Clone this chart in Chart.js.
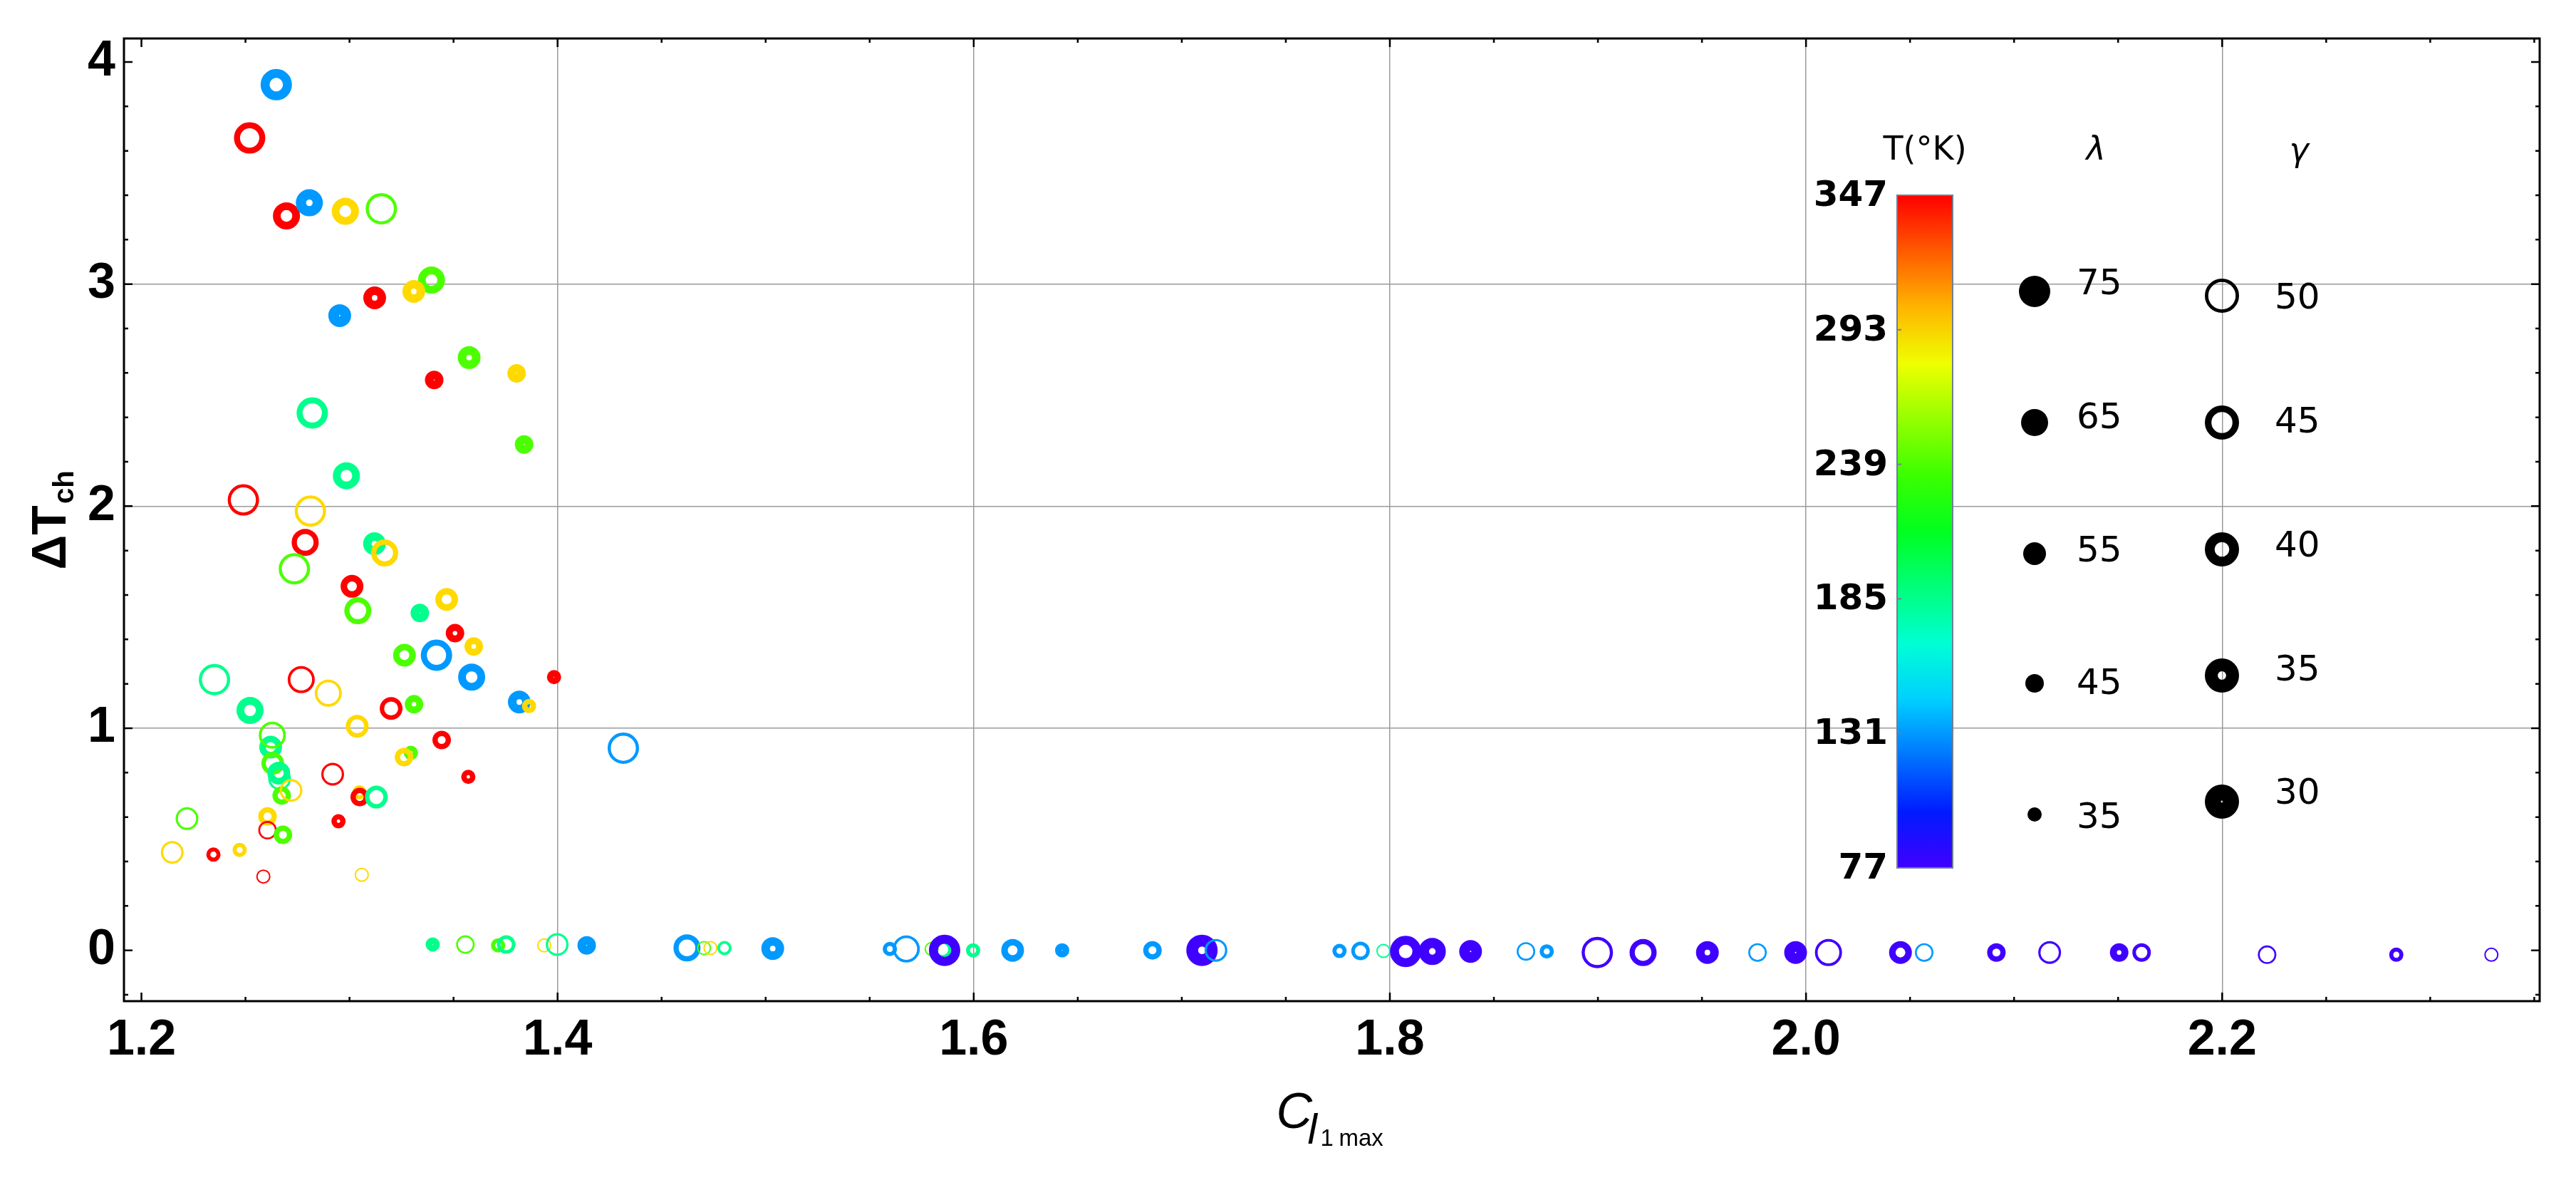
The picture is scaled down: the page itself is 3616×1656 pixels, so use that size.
<!DOCTYPE html>
<html>
<head>
<meta charset="utf-8">
<script src="https://cdn.jsdelivr.net/npm/chart.js@4.4.1/dist/chart.umd.min.js"></script>
<style>
  html, body { margin: 0; padding: 0; background: #fff; }
</style>
</head>
<body>
<canvas id="grafica" width="3616" height="1656"></canvas>
<script>
// Datos: C_l1max, ΔTch, T (°K), λ y γ de cada punto
var cl1max = [
  1.2648, 1.2520, 1.2697, 1.2807, 1.2980, 1.3153, 1.3394, 1.3309, 1.3121, 1.2953,
  1.3575, 1.3407, 1.3803, 1.2821, 1.3839, 1.2985, 1.2490, 1.2812, 1.2787, 1.3120,
  1.3169, 1.2735, 1.3012, 1.3040, 1.3467, 1.3338, 1.3507, 1.3597, 1.3264, 1.3418,
  1.3587, 1.3983, 1.2351, 1.2768, 1.2898, 1.3816, 1.3863, 1.2522, 1.3200, 1.3310,
  1.3037, 1.3443, 1.4316, 1.2621, 1.2629, 1.3295, 1.3262, 1.2631, 1.2660, 1.2664,
  1.2674, 1.2719, 1.2919, 1.3571, 1.3047, 1.3049, 1.3129, 1.2606, 1.2606, 1.2680,
  1.2947, 1.2219, 1.2148, 1.2346, 1.2472, 1.2586, 1.3059,
  1.3400, 1.3557, 1.3714, 1.3753, 1.3936, 1.3998, 1.4140, 1.4622, 1.4704, 1.4735,
  1.4802, 1.5034, 1.5597, 1.5676, 1.5798, 1.5850, 1.5860, 1.5997, 1.6187, 1.6425,
  1.6859, 1.7080, 1.7097, 1.7164, 1.7758, 1.7859, 1.7969, 1.8076, 1.8204, 1.8388,
  1.8654, 1.8754, 1.8997, 1.9217, 1.9526, 1.9767, 1.9950, 2.0108, 2.0454, 2.0568,
  2.0915, 2.1171, 2.1505, 2.1613, 2.2216, 2.2837, 2.3294
];
var deltaTch = [
  3.898, 3.658, 3.307, 3.366, 3.328, 3.339, 3.018, 2.967, 2.938, 2.858,
  2.669, 2.568, 2.598, 2.420, 2.278, 2.137, 2.028, 1.978, 1.837, 1.831,
  1.789, 1.718, 1.639, 1.529, 1.580, 1.519, 1.428, 1.368, 1.329, 1.329,
  1.230, 1.230, 1.219, 1.219, 1.158, 1.118, 1.100, 1.080, 1.089, 1.108,
  1.009, 0.947, 0.910, 0.915, 0.969, 0.889, 0.870, 0.842, 0.798, 0.772,
  0.697, 0.720, 0.793, 0.781, 0.711, 0.690, 0.690, 0.603, 0.541, 0.520,
  0.581, 0.593, 0.441, 0.431, 0.452, 0.332, 0.340,
  0.026, 0.026, 0.022, 0.026, 0.022, 0.026, 0.022, 0.011, 0.010, 0.010,
  0.010, 0.008, 0.006, 0.006, 0.006, 0.004, 0.000, 0.000, 0.000, 0.000,
  0.000, 0.000, 0.000, 0.000, -0.003, -0.003, -0.003, -0.005, -0.005, -0.005,
  -0.005, -0.005, -0.010, -0.010, -0.010, -0.010, -0.010, -0.010, -0.010, -0.010,
  -0.010, -0.010, -0.010, -0.010, -0.020, -0.020, -0.020
];
var tempK = [
  131, 347, 347, 131, 293, 239, 239, 293, 347, 131,
  239, 347, 293, 185, 239, 185, 347, 293, 347, 185,
  293, 239, 347, 239, 293, 185, 347, 293, 239, 131,
  131, 347, 185, 347, 293, 131, 293, 185, 347, 239,
  293, 347, 131, 185, 239, 239, 293, 239, 185, 185,
  239, 293, 347, 347, 293, 347, 185, 293, 347, 239,
  347, 239, 293, 347, 293, 347, 293,
  185, 239, 239, 185, 293, 185, 131, 131, 239, 293,
  185, 131, 131, 131, 239, 185, 77, 185, 131, 131,
  131, 185, 77, 131, 131, 131, 185, 77, 77, 77,
  131, 131, 77, 77, 77, 131, 77, 77, 77, 131,
  77, 77, 77, 77, 77, 77, 77
];
var lambda = [
  75, 75, 65, 65, 65, 75, 65, 55, 55, 55,
  55, 45, 45, 75, 45, 65, 75, 75, 65, 55,
  65, 75, 55, 65, 55, 45, 45, 45, 55, 75,
  65, 35, 75, 65, 65, 55, 35, 65, 55, 45,
  55, 45, 75, 55, 65, 35, 45, 55, 55, 55,
  45, 55, 55, 35, 35, 45, 55, 45, 45, 45,
  35, 55, 55, 35, 35, 35, 35,
  35, 45, 35, 45, 35, 55, 45, 65, 35, 35,
  35, 55, 35, 65, 35, 45, 75, 35, 55, 35,
  45, 45, 75, 55, 35, 45, 35, 75, 65, 55,
  45, 35, 75, 65, 55, 45, 55, 65, 55, 45,
  45, 55, 45, 45, 45, 35, 35
];
var gamma = [
  40, 45, 40, 35, 40, 50, 40, 35, 35, 30,
  35, 30, 30, 45, 30, 40, 50, 50, 45, 35,
  45, 50, 40, 45, 40, 30, 35, 35, 40, 45,
  40, 30, 50, 50, 50, 35, 35, 40, 45, 35,
  45, 40, 50, 40, 50, 35, 40, 45, 40, 50,
  40, 50, 50, 35, 40, 40, 45, 40, 50, 40,
  35, 50, 50, 40, 40, 50, 50,
  30, 50, 40, 45, 50, 50, 30, 45, 50, 50,
  45, 35, 40, 50, 50, 45, 40, 40, 40, 30,
  40, 50, 35, 50, 40, 45, 50, 40, 35, 30,
  50, 40, 50, 45, 35, 50, 30, 50, 40, 50,
  40, 50, 35, 45, 50, 40, 50
];

var xTicks = [1.2, 1.4, 1.6, 1.8, 2.0, 2.2];
var yTicks = [0, 1, 2, 3, 4];
var xGrid = [1.4, 1.6, 1.8, 2.0, 2.2];
var yGrid = [1, 2, 3];
var tLabels = [347, 293, 239, 185, 131, 77];
var lambdaLevels = [75, 65, 55, 45, 35];
var gammaLevels = [50, 45, 40, 35, 30];

var T_MIN = 77, T_MAX = 347;

// color segun temperatura (escala de tono, rojo arriba, violeta abajo)
function colorT(t) {
  var h = 255 * (T_MAX - t) / (T_MAX - T_MIN);
  return 'hsl(' + h.toFixed(1) + ', 100%, 50%)';
}
// diametro exterior segun λ
function diametro(l) {
  return 20 + (l - 35) * 0.6;
}
// grosor del anillo segun γ
function grosor(g, d) {
  return d * (0.1 + (50 - g) * 0.0185);
}

var puntos = cl1max.map(function (x, i) {
  var d = diametro(lambda[i]);
  var w = grosor(gamma[i], d);
  return { x: x, y: deltaTch[i], r: d / 2 - w / 2 };
});

var fuenteEjes = { family: "'Liberation Sans', Arial, sans-serif", size: 70, weight: 'bold' };

// marco con marcas hacia dentro, titulos de ejes y leyenda
var marcoPlugin = {
  id: 'marco',
  afterDraw: function (chart) {
    var ctx = chart.ctx, ca = chart.chartArea;
    var xs = chart.scales.x, ys = chart.scales.y;
    ctx.save();
    ctx.strokeStyle = '#000';

    // marcas
    ctx.lineWidth = 2.5;
    var v, px, len;
    for (v = 1.2; v <= 2.36; v += 0.05) {
      px = xs.getPixelForValue(v);
      if (px < ca.left || px > ca.right) continue;
      len = Math.abs(v * 5 - Math.round(v * 5)) < 1e-6 ? 12 : 6;
      ctx.beginPath();
      ctx.moveTo(px, ca.bottom); ctx.lineTo(px, ca.bottom - len);
      ctx.moveTo(px, ca.top); ctx.lineTo(px, ca.top + len);
      ctx.stroke();
    }
    for (v = -0.2; v <= 4.01; v += 0.2) {
      px = ys.getPixelForValue(v);
      if (px < ca.top || px > ca.bottom) continue;
      len = Math.abs(v - Math.round(v)) < 1e-6 ? 12 : 6;
      ctx.beginPath();
      ctx.moveTo(ca.left, px); ctx.lineTo(ca.left + len, px);
      ctx.moveTo(ca.right, px); ctx.lineTo(ca.right - len, px);
      ctx.stroke();
    }
    ctx.lineWidth = 3;
    ctx.strokeRect(ca.left, ca.top, ca.right - ca.left, ca.bottom - ca.top);

    // titulo eje y: ΔTch
    ctx.fillStyle = '#000';
    ctx.save();
    ctx.translate(92, (ca.top + ca.bottom) / 2 + 70);
    ctx.rotate(-Math.PI / 2);
    ctx.textAlign = 'left';
    ctx.textBaseline = 'alphabetic';
    ctx.font = "bold 68px 'Liberation Sans', Arial, sans-serif";
    ctx.fillText('\u0394T', 0, 0);
    var wt = ctx.measureText('\u0394T').width;
    ctx.font = "bold 40px 'Liberation Sans', Arial, sans-serif";
    ctx.fillText('ch', wt + 2, 11);
    ctx.restore();

    // titulo eje x: C_{l1 max}
    var cx = (ca.left + ca.right) / 2;
    ctx.textAlign = 'left';
    ctx.textBaseline = 'alphabetic';
    ctx.font = "italic 70px 'Liberation Sans', Arial, sans-serif";
    ctx.fillText('C', cx - 78, 1583);
    ctx.font = "italic 60px 'Liberation Sans', Arial, sans-serif";
    ctx.fillText('l', cx - 34, 1605);
    ctx.font = "33px 'Liberation Sans', Arial, sans-serif";
    ctx.fillText('1', cx - 16, 1608);
    ctx.fillText('max', cx + 10, 1608);

    // leyenda: barra de color
    var bx0 = 2663, bx1 = 2741, by0 = 274, by1 = 1218;
    var grad = ctx.createLinearGradient(0, by1, 0, by0);
    for (var k = 0; k <= 12; k++) {
      grad.addColorStop(k / 12, 'hsl(' + (255 * (1 - k / 12)).toFixed(1) + ',100%,50%)');
    }
    ctx.fillStyle = grad;
    ctx.fillRect(bx0, by0, bx1 - bx0, by1 - by0);
    ctx.strokeStyle = '#6f7f95';
    ctx.lineWidth = 2;
    ctx.strokeRect(bx0, by0, bx1 - bx0, by1 - by0);

    ctx.fillStyle = '#000';
    ctx.font = "bold 50px 'DejaVu Sans', sans-serif";
    ctx.textAlign = 'right';
    ctx.textBaseline = 'middle';
    tLabels.forEach(function (t) {
      var yy = by1 - (t - T_MIN) / (T_MAX - T_MIN) * (by1 - by0);
      ctx.fillText(String(t), 2650, yy + 2);
      ctx.strokeStyle = '#6f7f95';
      ctx.beginPath(); ctx.moveTo(bx0, yy); ctx.lineTo(bx0 + 6, yy); ctx.stroke();
    });
    ctx.textAlign = 'center';
    ctx.font = "46px 'DejaVu Sans', sans-serif";
    ctx.fillText('T(\u00b0K)', 2702, 212);
    ctx.font = "italic 46px 'DejaVu Sans', sans-serif";
    ctx.fillText('\u03bb', 2942, 212);
    ctx.fillText('\u03b3', 3227, 214);

    // leyenda λ: puntos llenos
    var lamY = [409, 593, 777, 959, 1143];
    var lamTxtY = [400, 588, 775, 961, 1149];
    ctx.textAlign = 'left';
    ctx.font = "50px 'DejaVu Sans', sans-serif";
    lambdaLevels.forEach(function (l, i) {
      ctx.fillStyle = '#000';
      ctx.beginPath();
      ctx.arc(2856, lamY[i], diametro(l) / 2, 0, Math.PI * 2);
      ctx.fill();
      ctx.fillText(String(l), 2915, lamTxtY[i]);
    });

    // leyenda γ: anillos
    var gamY = [415, 593, 771, 948, 1125];
    var gamTxtY = [420, 594, 768, 942, 1115];
    gammaLevels.forEach(function (g, i) {
      var d = 48, w = grosor(g, d);
      ctx.strokeStyle = '#000';
      ctx.lineWidth = w;
      ctx.beginPath();
      ctx.arc(3119, gamY[i], d / 2 - w / 2, 0, Math.PI * 2);
      ctx.stroke();
      ctx.fillText(String(g), 3193, gamTxtY[i]);
    });

    ctx.restore();
  }
};

var chart = new Chart(document.getElementById('grafica').getContext('2d'), {
  type: 'bubble',
  data: {
    datasets: [{
      data: puntos,
      backgroundColor: 'rgba(0,0,0,0)',
      borderColor: function (c) { return colorT(tempK[c.dataIndex]); },
      borderWidth: function (c) {
        var i = c.dataIndex;
        return grosor(gamma[i], diametro(lambda[i]));
      }
    }]
  },
  options: {
    responsive: false,
    animation: false,
    events: [],
    layout: { padding: { top: 48, right: 51, left: 0, bottom: 0 } },
    plugins: { legend: { display: false }, tooltip: { enabled: false } },
    scales: {
      x: {
        type: 'linear',
        min: 1.1916,
        max: 2.3526,
        afterBuildTicks: function (s) { s.ticks = xTicks.map(function (v) { return { value: v }; }); },
        afterFit: function (s) { s.height = 251; },
        ticks: {
          font: fuenteEjes, color: '#000', padding: 14, maxRotation: 0,
          callback: function (v) { return v.toFixed(1); }
        },
        grid: {
          color: function (c) { return c.tick && xGrid.indexOf(c.tick.value) >= 0 ? '#9a9a9a' : 'rgba(0,0,0,0)'; },
          lineWidth: 1.5,
          drawTicks: false
        },
        border: { display: false }
      },
      y: {
        type: 'linear',
        min: -0.229,
        max: 4.106,
        afterBuildTicks: function (s) { s.ticks = yTicks.map(function (v) { return { value: v }; }); },
        afterFit: function (s) { s.width = 174; },
        ticks: {
          font: fuenteEjes, color: '#000', padding: 12,
          callback: function (v) { return v.toFixed(0); }
        },
        grid: {
          color: function (c) { return c.tick && yGrid.indexOf(c.tick.value) >= 0 ? '#9a9a9a' : 'rgba(0,0,0,0)'; },
          lineWidth: 1.5,
          drawTicks: false
        },
        border: { display: false }
      }
    }
  },
  plugins: [marcoPlugin]
});
</script>
</body>
</html>
